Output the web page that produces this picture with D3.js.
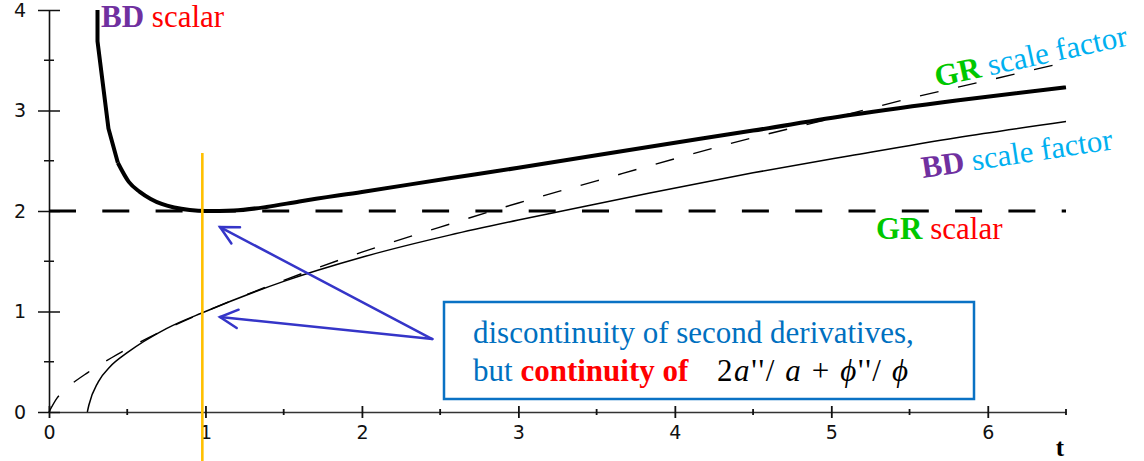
<!DOCTYPE html>
<html>
<head>
<meta charset="utf-8">
<script src="https://cdn.jsdelivr.net/npm/d3@7"></script>
<style>
  body { margin: 0; background: #fff; }
  svg { display: block; }
</style>
</head>
<body>
<div id="wrapper"></div>
<script>
// values (t, value)
const bdScalarT = [0.31, 0.31, 0.38, 0.44, 0.51, 0.58, 0.65, 0.72, 0.80, 0.90, 1.00, 1.18, 1.39, 1.60, 2.00, 2.56, 3.00, 3.84, 4.50, 5.12, 5.80, 6.50];
const bdScalarV = [4.0, 3.69, 2.82, 2.48, 2.29, 2.19, 2.12, 2.07, 2.035, 2.01, 2.0, 2.005, 2.04, 2.095, 2.19, 2.325, 2.43, 2.64, 2.80, 2.955, 3.10, 3.23];

const bdScaleT = [0.245, 0.255, 0.315, 0.39, 0.50, 0.75, 1.0, 1.5, 2.0, 2.56, 3.0, 3.28, 3.84, 4.5, 5.12, 5.8, 6.5];
const bdScaleV = [0, 0.07, 0.30, 0.45, 0.59, 0.83, 1.0, 1.30, 1.54, 1.76, 1.91, 2.0, 2.18, 2.38, 2.55, 2.73, 2.89];

const grScaleT = [0, 0.05, 0.12, 0.25, 0.4, 0.55, 0.75, 1.0, 1.5, 2.0, 2.5, 3.0, 3.5, 4.0, 4.5, 5.0, 5.5, 6.0, 6.5];
const grScaleV = [0, 0.135, 0.245, 0.395, 0.54, 0.67, 0.825, 1.0, 1.31, 1.59, 1.84, 2.08, 2.30, 2.52, 2.73, 2.92, 3.12, 3.30, 3.48];

const grScalarT = [0, 6.5];
const grScalarV = [2, 2];

const xMajor = [0, 1, 2, 3, 4, 5, 6];
const xMinor = [0.5, 1.5, 2.5, 3.5, 4.5, 5.5, 6.5];
const yMajor = [0, 1, 2, 3, 4];
const yMinor = [0.5, 1.5, 2.5, 3.5];

const transitionT = 0.98;          // the orange line
const arrowFrom = [2.45, 0.726];   // where both arrows start
const arrowTips = [[1.093, 1.84], [1.093, 0.945]];

const width = 1144, height = 461;
const margin = {top: 10, right: 78, bottom: 49, left: 49};

const svg = d3.select("#wrapper").append("svg")
    .attr("width", width)
    .attr("height", height);

const x = d3.scaleLinear().domain([0, 6.5]).range([margin.left, width - margin.right]);
const y = d3.scaleLinear().domain([0, 4]).range([height - margin.bottom, margin.top]);

const serif = "'Liberation Serif', 'Times New Roman', serif";
const tickFont = "'DejaVu Sans', sans-serif";

// axes
const xAxis = svg.append("g")
    .attr("transform", `translate(0,${y(0)})`)
    .call(d3.axisBottom(x).tickValues(xMajor).tickSizeOuter(0).tickFormat(d3.format("d")))
    .attr("font-size", 19).attr("font-family", tickFont);
xAxis.select(".domain").attr("stroke", "#333").attr("stroke-width", 1.6);
xAxis.selectAll(".tick line").attr("y1", -6).attr("y2", 6).attr("stroke", "#111").attr("stroke-width", 1.8);
xAxis.selectAll(".tick text")
    .attr("y", 14).attr("dy", "0.71em").attr("fill", "#111");

xAxis.selectAll(".minor")
    .data(xMinor).enter().append("line")
    .attr("class", "minor")
    .attr("x1", d => x(d)).attr("x2", d => x(d))
    .attr("y1", -3).attr("y2", 3)
    .attr("stroke", "#111").attr("stroke-width", 1.8);

const yAxis = svg.append("g")
    .attr("transform", `translate(${x(0)},0)`)
    .call(d3.axisLeft(y).tickValues(yMajor).tickSizeOuter(0).tickFormat(d3.format("d")))
    .attr("font-size", 19).attr("font-family", tickFont);
yAxis.select(".domain").attr("stroke", "#111").attr("stroke-width", 1.6);
yAxis.selectAll(".tick line").attr("x1", -11).attr("x2", 11).attr("stroke", "#111").attr("stroke-width", 1.5);
yAxis.selectAll(".tick text")
    .attr("x", -29).attr("text-anchor", "middle").attr("fill", "#111");

yAxis.selectAll(".minor")
    .data(yMinor).enter().append("line")
    .attr("class", "minor")
    .attr("x1", -5).attr("x2", 5)
    .attr("y1", d => y(d)).attr("y2", d => y(d))
    .attr("stroke", "#111").attr("stroke-width", 1.5);

svg.append("text")
    .attr("x", 1060).attr("y", 456)
    .attr("text-anchor", "middle")
    .style("font-family", serif).style("font-weight", "bold").style("font-size", "25px")
    .text("t");

// curves
const line = d3.line().x(d => x(d[0])).y(d => y(d[1]));
const smooth = d3.line().x(d => x(d[0])).y(d => y(d[1])).curve(d3.curveMonotoneX);

svg.append("path")
    .datum(d3.zip(grScalarT, grScalarV))
    .attr("d", line)
    .attr("fill", "none").attr("stroke", "#000")
    .attr("stroke-width", 3).attr("stroke-dasharray", "27,26.3");

svg.append("path")
    .datum(d3.zip(grScaleT, grScaleV))
    .attr("d", smooth)
    .attr("fill", "none").attr("stroke", "#000")
    .attr("stroke-width", 1.4).attr("stroke-dasharray", "19,20");

svg.append("path")
    .datum(d3.zip(bdScaleT, bdScaleV))
    .attr("d", smooth)
    .attr("fill", "none").attr("stroke", "#000")
    .attr("stroke-width", 1.5);

// BD scalar: coarse sampled near the top, smooth after
const bdScalar = d3.zip(bdScalarT, bdScalarV);
const bdScalarG = svg.append("g")
    .attr("fill", "none").attr("stroke", "#000")
    .attr("stroke-width", 4).attr("stroke-linejoin", "round");
bdScalarG.append("path").datum(bdScalar.slice(0, 4)).attr("d", line);
bdScalarG.append("path").datum(bdScalar.slice(3)).attr("d", smooth);

// orange line at the transition
svg.append("line")
    .attr("x1", x(transitionT)).attr("x2", x(transitionT))
    .attr("y1", 153).attr("y2", height)
    .attr("stroke", "#ffc000").attr("stroke-width", 2.6);

// arrows
const arrows = svg.append("g")
    .attr("fill", "none").attr("stroke", "#3535c8")
    .attr("stroke-width", 2.5).attr("stroke-linecap", "round");
arrowTips.forEach(tip => {
    const x0 = x(arrowFrom[0]), y0 = y(arrowFrom[1]);
    const tx = x(tip[0]), ty = y(tip[1]);
    const ang = Math.atan2(y0 - ty, x0 - tx);
    const len = 20, spread = 27.5 * Math.PI / 180;
    arrows.append("line").attr("x1", x0).attr("y1", y0).attr("x2", tx).attr("y2", ty);
    arrows.append("polyline").attr("points", [
        [tx + len * Math.cos(ang - spread), ty + len * Math.sin(ang - spread)],
        [tx, ty],
        [tx + len * Math.cos(ang + spread), ty + len * Math.sin(ang + spread)]
    ].map(p => p.join(",")).join(" "));
});

// annotation box
svg.append("rect")
    .attr("x", 444).attr("y", 302).attr("width", 530).attr("height", 97)
    .attr("fill", "#fff").attr("stroke", "#0a72c4").attr("stroke-width", 2.5);

svg.append("text")
    .attr("x", 473).attr("y", 342.5)
    .style("font-family", serif).style("font-size", "31px")
    .attr("fill", "#0070c0")
    .text("discontinuity of second derivatives,");

const note2 = svg.append("text")
    .attr("x", 473).attr("y", 380.5)
    .style("font-family", serif).style("font-size", "31px");
note2.append("tspan").attr("fill", "#0070c0").text("but ");
note2.append("tspan").attr("fill", "#ff0000").style("font-weight", "bold").text("continuity of");

const mathParts = [
    ["2", "normal"], ["a", "italic"], ["''/ ", "normal"], ["a", "italic"], [" + ", "normal"],
    ["\u03D5", "italic"], ["''/ ", "normal"], ["\u03D5", "italic"]
];
const math = svg.append("text")
    .attr("x", 717).attr("y", 380.5)
    .attr("textLength", 191).attr("lengthAdjust", "spacing")
    .style("font-family", "'Liberation Serif', 'DejaVu Serif', serif").style("font-size", "31px")
    .attr("fill", "#000");
mathParts.forEach(p => math.append("tspan").style("font-style", p[1]).text(p[0]));

// curve labels
function label(xp, yp, rot, head, headColor, tail) {
    const t = svg.append("text")
        .attr("transform", `translate(${xp},${yp}) rotate(${rot})`)
        .style("font-family", serif).style("font-size", "31px");
    t.append("tspan").attr("fill", headColor).style("font-weight", "bold").text(head);
    t.append("tspan").attr("fill", tail[1]).text(" " + tail[0]);
}
label(101, 27, 0, "BD", "#7030a0", ["scalar", "#ff0000"]);
label(876, 239, 0, "GR", "#00c800", ["scalar", "#ff0000"]);
label(937, 87, -12.3, "GR", "#00c800", ["scale factor", "#00b0f0"]);
label(923, 178, -8.6, "BD", "#7030a0", ["scale factor", "#00b0f0"]);
</script>
</body>
</html>
